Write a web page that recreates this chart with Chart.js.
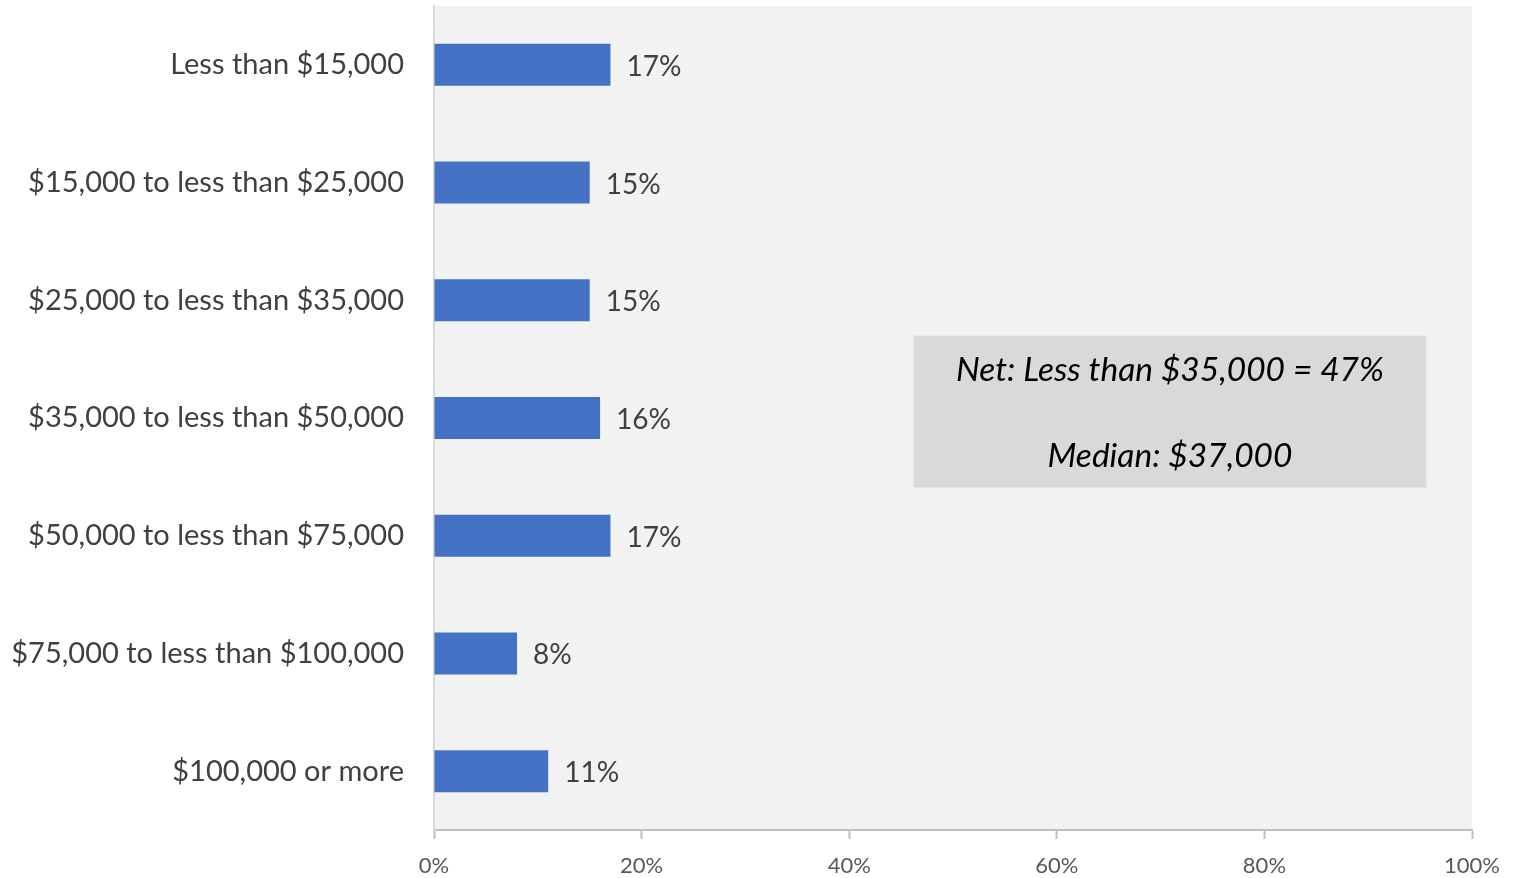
<html lang="en">
<head>
<meta charset="UTF-8">
<title>Household income</title>
<script src="https://cdn.jsdelivr.net/npm/chart.js"></script>
<style>
  body { margin: 0; background: #fff; }
</style>
</head>
<body>
<canvas id="myChart" width="1514" height="878"></canvas>
<script>
const incomeGroups = [
  'Less than $15,000',
  '$15,000 to less than $25,000',
  '$25,000 to less than $35,000',
  '$35,000 to less than $50,000',
  '$50,000 to less than $75,000',
  '$75,000 to less than $100,000',
  '$100,000 or more'
];
const shares = [17, 15, 15, 16, 17, 8, 11];
const tickValues = [0, 20, 40, 60, 80, 100];
const noteLines = ['Net: Less than $35,000 = 47%', 'Median: $37,000'];

const FONT = 'Lato, "Open Sans", sans-serif';

// grey plot background
const plotBg = {
  id: 'plotBg',
  beforeDraw(chart) {
    const { ctx, chartArea: a } = chart;
    ctx.save();
    ctx.fillStyle = '#f2f2f2';
    ctx.fillRect(a.left, a.top, a.right - a.left, a.bottom - a.top);
    ctx.restore();
  }
};

// percent labels at the end of each bar
const valueLabels = {
  id: 'valueLabels',
  afterDatasetsDraw(chart) {
    const { ctx } = chart;
    const meta = chart.getDatasetMeta(0);
    ctx.save();
    ctx.font = '28px ' + FONT;
    ctx.fillStyle = '#404040';
    ctx.textAlign = 'left';
    ctx.textBaseline = 'middle';
    meta.data.forEach((bar, i) => {
      ctx.fillText(shares[i] + '%', bar.x + 16, bar.y + 2);
    });
    ctx.restore();
  }
};

// summary box placed on the scales
const noteBox = {
  id: 'noteBox',
  afterDraw(chart) {
    const { ctx, scales: { x, y } } = chart;
    const left = x.getPixelForValue(46.2);
    const right = x.getPixelForValue(95.6);
    const top = y.getPixelForValue(2.3);
    const bottom = y.getPixelForValue(3.59);
    ctx.save();
    ctx.fillStyle = '#d9d9d9';
    ctx.fillRect(left, top, right - left, bottom - top);
    ctx.font = 'italic 33.5px ' + FONT;
    ctx.fillStyle = '#000';
    ctx.textAlign = 'center';
    ctx.textBaseline = 'middle';
    const cx = (left + right) / 2;
    ctx.fillText(noteLines[0], cx, top + 35);
    ctx.fillText(noteLines[1], cx, top + 121);
    ctx.restore();
  }
};

const ctx = document.getElementById('myChart');
new Chart(ctx, {
  type: 'bar',
  data: {
    labels: incomeGroups,
    datasets: [{
      data: shares,
      backgroundColor: '#4472c4',
      barPercentage: 0.357,
      categoryPercentage: 1
    }]
  },
  options: {
    indexAxis: 'y',
    responsive: false,
    animation: false,
    layout: { padding: { top: 6, right: 39, bottom: 0, left: 0 } },
    plugins: {
      legend: { display: false },
      tooltip: { enabled: false }
    },
    scales: {
      x: {
        min: 0,
        max: 100,
        afterBuildTicks(scale) {
          scale.ticks = tickValues.map(v => ({ value: v }));
        },
        afterFit(scale) { scale.height = 48; },
        grid: {
          drawOnChartArea: false,
          drawTicks: true,
          tickLength: 9,
          tickWidth: 2,
          color: '#bfbfbf'
        },
        border: { color: '#bfbfbf', width: 2 },
        ticks: {
          padding: 14,
          color: '#595959',
          font: { family: FONT, size: 22 },
          callback: v => v + '%'
        }
      },
      y: {
        afterFit(scale) {
          scale.width = 434;
          scale.paddingTop = 0;
          scale.paddingBottom = 0;
        },
        grid: { display: false, drawTicks: false },
        border: { color: '#d9d9d9', width: 2 },
        ticks: {
          padding: 30,
          color: '#404040',
          font: { family: FONT, size: 29 }
        }
      }
    }
  },
  plugins: [plotBg, valueLabels, noteBox]
});
</script>
</body>
</html>
